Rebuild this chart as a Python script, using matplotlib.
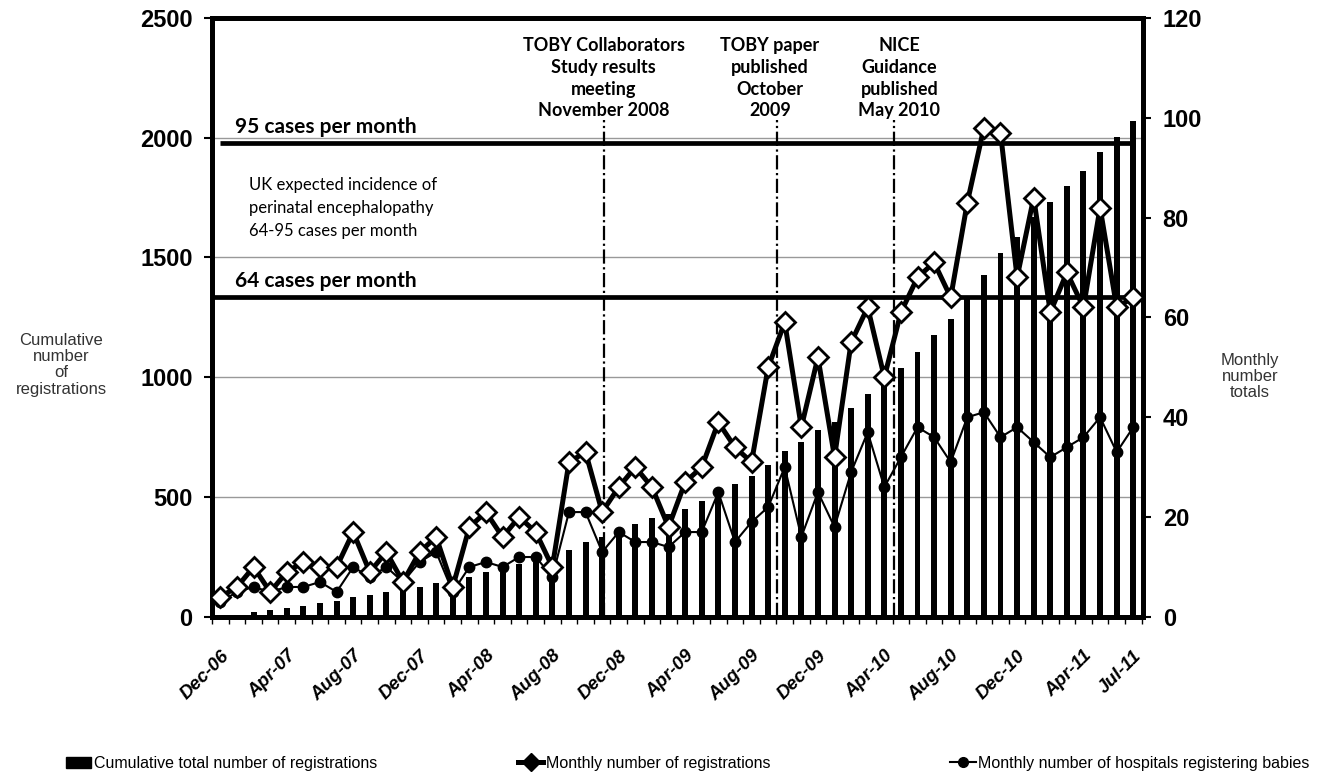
import numpy as np
import matplotlib.pyplot as plt
from matplotlib.lines import Line2D
from matplotlib.patches import Patch

# Month index 0 = Dec-06 ... 55 = Jul-11
monthly_registrations = [4, 6, 10, 5, 9, 11, 10, 10, 17, 9, 13, 7, 13, 16, 6, 18,
                         21, 16, 20, 17, 10, 31, 33, 21, 26, 30, 26, 18, 27, 30,
                         39, 34, 31, 50, 59, 38, 52, 32, 55, 62, 48, 61, 68, 71,
                         64, 83, 98, 97, 68, 84, 61, 69, 62, 82, 62, 64]
monthly_hospitals = [3, 5, 6, 5, 6, 6, 7, 5, 10, 8, 10, 7, 11, 13, 5, 10,
                     11, 10, 12, 12, 8, 21, 21, 13, 17, 15, 15, 14, 17, 17,
                     25, 15, 19, 22, 30, 16, 25, 18, 29, 37, 26, 32, 38, 36,
                     31, 40, 41, 36, 38, 35, 32, 34, 36, 40, 33, 38]
cumulative_registrations = [4, 10, 20, 27, 38, 46, 57, 68, 84, 92, 106, 113, 125, 141,
                            147, 165, 186, 202, 222, 239, 249, 280, 312, 333, 358, 388,
                            413, 431, 452, 482, 520, 553, 586, 636, 692, 731, 782, 814,
                            870, 932, 980, 1040, 1106, 1177, 1245, 1330, 1425, 1520,
                            1585, 1670, 1730, 1798, 1862, 1942, 2004, 2068]

tick_positions = [0, 4, 8, 12, 16, 20, 24, 28, 32, 36, 40, 44, 48, 52, 55]
tick_labels = ['Dec-06', 'Apr-07', 'Aug-07', 'Dec-07', 'Apr-08', 'Aug-08', 'Dec-08',
               'Apr-09', 'Aug-09', 'Dec-09', 'Apr-10', 'Aug-10', 'Dec-10', 'Apr-11',
               'Jul-11']

events = ['TOBY Collaborators\nStudy results\nmeeting\nNovember 2008',
          'TOBY paper\npublished\nOctober\n2009',
          'NICE\nGuidance\npublished\nMay 2010']
event_lines = [23.1, 33.55, 40.6]
event_text_x = [23.1, 33.1, 40.9]

thresholds = [95, 64]

plt.rcParams['font.family'] = ['Liberation Sans', 'DejaVu Sans']
calibri_like = ['Lato', 'DejaVu Sans']

fig = plt.figure(figsize=(13.34, 7.76), dpi=100)
ax = fig.add_axes([0.159, 0.205, 0.698, 0.772])
ax2 = ax.twinx()

x = np.arange(len(monthly_registrations))

# cumulative bars (left axis)
ax.bar(x, cumulative_registrations, width=0.36, color='black', zorder=2)
ax.set_ylim(0, 2500)
ax.set_yticks(np.arange(0, 2501, 500))
ax.yaxis.grid(True, color='#999999', linewidth=1.0, zorder=0)
ax.set_axisbelow(True)
ax.set_xlim(-0.5, 55.6)

# event lines and labels
ax.vlines(event_lines, 0, 2075, colors='black', linestyles='-.', linewidth=1.6, zorder=3)
for tx, label in zip(event_text_x, events):
    ax.text(tx, 2418, label, ha='center', va='top', fontsize=13, fontweight='bold',
            family=calibri_like, linespacing=1.33)

# monthly lines (right axis)
ax2.plot(x, monthly_registrations, color='black', linewidth=3.6, marker='D',
         markersize=10.5, markerfacecolor='white', markeredgecolor='black',
         markeredgewidth=2.0, zorder=5)
ax2.plot(x, monthly_hospitals, color='black', linewidth=1.5, marker='o',
         markersize=7.5, markerfacecolor='black', zorder=4)
ax2.hlines(thresholds, [0.0, -0.5], 55, colors='black', linewidth=3.4, zorder=3)
ax2.set_ylim(0, 120)
ax2.set_yticks(np.arange(0, 121, 20))

ax2.text(0.9, 96.2, '95 cases per month', fontsize=15, fontweight='bold',
         family=calibri_like, va='bottom')
ax2.text(0.9, 65.2, '64 cases per month', fontsize=15, fontweight='bold',
         family=calibri_like, va='bottom')
ax2.text(1.7, 88.2, 'UK expected incidence of\nperinatal encephalopathy\n64-95 cases per month',
         fontsize=12, family=calibri_like, va='top', linespacing=1.55)

# spines and ticks
for a in (ax, ax2):
    for side in ('left', 'right', 'top', 'bottom'):
        a.spines[side].set_linewidth(3.5)
ax.set_xticks(tick_positions)
ax.set_xticklabels(tick_labels, rotation=45, ha='right', rotation_mode='anchor',
                   fontsize=13.5, fontweight='bold', fontstyle='italic')
ax.set_xticks(np.arange(-0.5, 55.6, 1), minor=True)
ax.tick_params(axis='x', which='major', length=0, pad=22)
ax.tick_params(axis='x', which='minor', length=5, width=1, direction='out')
ax.tick_params(axis='y', length=6, width=1.5, pad=8)
ax2.tick_params(axis='y', length=6, width=1.5, pad=8)
for lab in ax.get_yticklabels() + ax2.get_yticklabels():
    lab.set_fontsize(17)
    lab.set_fontweight('bold')

fig.text(0.046, 0.53, 'Cumulative\nnumber\nof\nregistrations', ha='center', va='center',
         fontsize=12, color='#333333', linespacing=1.1)
fig.text(0.937, 0.515, 'Monthly\nnumber\ntotals', ha='center', va='center',
         fontsize=12, color='#333333', linespacing=1.1)

legend_font = {'family': ['Liberation Sans', 'DejaVu Sans'], 'size': 11.5}
handles = [Patch(facecolor='black', edgecolor='black'),
           Line2D([], [], color='black', linewidth=3.6, marker='D', markersize=9,
                  markerfacecolor='black', markeredgecolor='black'),
           Line2D([], [], color='black', linewidth=1.5, marker='o', markersize=7,
                  markerfacecolor='black')]
labels = ['Cumulative total number of registrations', 'Monthly number of registrations',
          'Monthly number of hospitals registering babies']
anchors = [0.042, 0.381, 0.705]
for h, lab, ax_x in zip(handles, labels, anchors):
    fig.legend([h], [lab], loc='lower left', bbox_to_anchor=(ax_x, -0.006),
               frameon=False, prop=legend_font, handlelength=1.6, handletextpad=0.15,
               borderaxespad=0.2)

fig.savefig('out.png', dpi=100)
